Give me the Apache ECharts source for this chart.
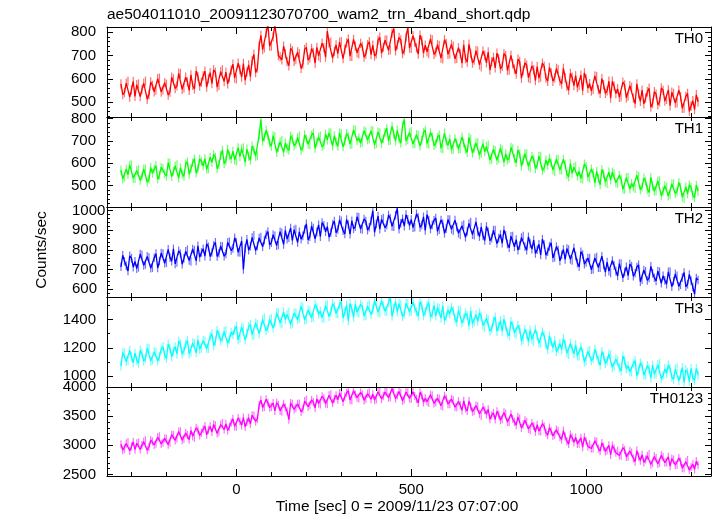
<!DOCTYPE html>
<html><head><meta charset="utf-8">
<script src="https://cdn.jsdelivr.net/npm/echarts@6/dist/echarts.min.js"></script>
<style>html,body{margin:0;padding:0;background:#fff}#c{width:717px;height:516px}</style>
</head><body><div id="c"></div>
<script>
// time bins (sec) and in-between bins
const times=[-330,-320,-310,-300,-290,-280,-270,-260,-250,-240,
-230,-220,-210,-200,-190,-180,-170,-160,-150,-140,
-130,-120,-110,-100,-90,-80,-70,-60,-50,-40,
-30,-20,-10,0,10,20,30,40,50,60,
70,80,90,100,110,120,130,140,150,160,
170,180,190,200,210,220,230,240,250,260,
270,280,290,300,310,320,330,340,350,360,
370,380,390,400,410,420,430,440,450,460,
470,480,490,500,510,520,530,540,550,560,
570,580,590,600,610,620,630,640,650,660,
670,680,690,700,710,720,730,740,750,760,
770,780,790,800,810,820,830,840,850,860,
870,880,890,900,910,920,930,940,950,960,
970,980,990,1000,1010,1020,1030,1040,1050,1060,
1070,1080,1090,1100,1110,1120,1130,1140,1150,1160,
1170,1180,1190,1200,1210,1220,1230,1240,1250,1260,
1270,1280,1290,1300,1310,1320];
const timesMid=[-325,-315,-305,-295,-285,-275,-265,-255,-245,-235,
-225,-215,-205,-195,-185,-175,-165,-155,-145,-135,
-125,-115,-105,-95,-85,-75,-65,-55,-45,-35,
-25,-15,-5,5,15,25,35,45,55,65,
75,85,95,105,115,125,135,145,155,165,
175,185,195,205,215,225,235,245,255,265,
275,285,295,305,315,325,335,345,355,365,
375,385,395,405,415,425,435,445,455,465,
475,485,495,505,515,525,535,545,555,565,
575,585,595,605,615,625,635,645,655,665,
675,685,695,705,715,725,735,745,755,765,
775,785,795,805,815,825,835,845,855,865,
875,885,895,905,915,925,935,945,955,965,
975,985,995,1005,1015,1025,1035,1045,1055,1065,
1075,1085,1095,1105,1115,1125,1135,1145,1155,1165,
1175,1185,1195,1205,1215,1225,1235,1245,1255,1265,
1275,1285,1295,1305,1315];

const th0=[579,542,590,553,525,578,555,590,533,572,
552,603,552,577,544,600,570,623,562,587,
617,557,610,586,633,600,580,628,573,639,
629,606,663,600,640,666,629,610,705,646,
786,733,835,740,830,700,682,707,656,721,
683,708,663,735,690,713,735,690,734,805,
757,718,708,759,727,770,697,740,707,738,
705,759,744,707,778,735,767,724,815,745,
767,721,820,731,756,706,765,744,708,768,
715,743,686,751,707,740,688,708,746,672,
709,680,719,652,701,715,674,647,688,654,
699,638,665,621,675,636,659,601,639,653,
608,654,590,627,605,641,578,605,552,607,
614,571,550,601,580,554,609,538,575,549,
518,569,557,523,574,526,563,494,536,552,
518,560,495,535,502,551,513,485,538,498,
524,475,538,484,469,502];
const th0Mid=[533,582,522,589,575,524,582,513,587,545,
601,544,584,531,607,559,624,555,607,551,
572,634,569,613,565,627,639,565,631,589,
579,638,604,667,608,594,660,678,627,741,
725,796,740,780,773,694,740,674,731,675,
715,645,726,681,730,667,698,753,693,754,
689,745,757,687,754,697,769,712,752,693,
746,704,698,766,710,766,722,796,720,777,
708,779,732,785,733,787,710,716,771,705,
746,689,767,705,748,686,733,667,687,748,
668,721,660,719,669,638,692,710,643,708,
636,701,642,684,603,668,605,655,593,603,
667,604,649,590,645,591,645,569,624,571,
564,616,626,560,548,613,554,601,538,590,
590,537,521,586,519,571,518,579,504,493,
545,479,545,489,561,505,553,543,497,552,
474,525,461,507,532];

const th1=[569,537,548,592,531,571,542,574,528,554,
588,546,576,542,600,563,593,579,541,606,
574,619,575,608,620,575,603,627,594,658,
610,634,654,609,629,669,663,613,659,633,
795,716,724,676,718,670,703,690,657,708,
687,722,671,709,682,735,693,722,683,704,
737,723,676,733,697,721,685,749,713,694,
740,709,746,688,737,710,756,701,731,748,
690,795,705,742,688,725,702,748,685,719,
688,726,663,696,709,662,691,665,690,648,
709,667,692,643,651,682,618,657,619,660,
642,623,665,602,642,614,642,579,619,591,
631,578,590,601,561,617,569,593,538,554,
586,563,528,585,534,555,563,503,551,508,
524,552,509,530,483,536,509,486,540,493,
519,468,498,476,521,475,492,458,507,473,
491,441,462,492,445,474];
const th1Mid=[529,573,592,532,567,523,574,514,580,574,
528,582,552,602,540,587,533,551,597,550,
602,555,619,588,572,627,639,575,634,598,
662,618,614,669,665,605,631,677,631,726,
698,748,690,723,648,696,648,667,722,677,
715,658,727,685,726,667,717,674,731,736,
677,695,736,673,733,685,749,701,689,746,
704,745,682,740,689,738,700,765,699,708,
766,699,737,686,728,677,738,688,737,679,
716,666,735,680,661,710,663,717,662,716,
645,691,636,687,675,614,662,613,667,604,
614,671,621,658,586,642,586,631,575,631,
567,614,622,569,617,569,617,549,598,582,
542,531,596,537,574,511,531,571,515,560,
560,512,545,482,535,484,493,546,480,533,
483,536,474,520,453,499,452,506,463,513,
447,493,502,456,501];

const th2=[714,742,693,758,742,711,775,726,761,710,
781,743,782,735,761,806,736,781,757,801,
741,799,821,787,768,816,787,839,783,818,
780,842,808,838,787,700,854,819,874,820,
866,850,894,837,872,825,887,900,862,848,
906,892,872,933,868,912,892,868,925,919,
889,947,904,948,882,930,949,919,966,904,
947,916,1000,932,906,963,928,961,918,1012,
936,921,956,955,916,965,928,899,952,928,
963,903,935,909,955,898,917,877,929,894,
942,875,895,917,848,893,860,901,860,834,
875,811,871,853,822,871,799,832,850,801,
774,828,791,836,763,799,775,752,802,747,
769,714,777,736,758,700,764,709,724,738,
683,720,667,731,687,669,716,681,724,648,
691,657,681,642,689,668,625,690,641,668,
622,685,625,643,575,647];
const th2Mid=[773,719,770,712,705,779,721,767,707,760,
708,784,732,803,743,729,795,727,793,746,
805,744,762,806,831,766,824,767,820,768,
839,797,862,788,846,808,799,864,797,861,
816,878,826,878,822,893,828,855,912,903,
838,855,904,851,922,857,928,940,893,865,
930,888,954,898,955,880,908,969,907,958,
901,948,890,973,956,913,978,920,977,906,
959,980,924,914,984,915,969,980,907,951,
895,953,885,955,905,952,885,923,865,935,
878,943,868,872,920,847,901,833,879,902,
830,870,816,799,863,817,867,804,782,829,
855,773,818,759,817,744,803,807,752,810,
733,791,727,759,699,759,710,768,687,692,
746,692,730,658,714,728,666,713,638,698,
645,716,658,692,630,645,688,613,678,614,
659,613,675,611,657];

const th3=[1071,1163,1110,1136,1162,1092,1159,1125,1197,1113,
1167,1137,1209,1125,1196,1177,1157,1228,1179,1252,
1169,1231,1256,1197,1247,1195,1299,1246,1296,1268,
1322,1262,1292,1352,1268,1334,1302,1365,1285,1366,
1346,1412,1340,1406,1375,1447,1369,1400,1450,1373,
1446,1411,1487,1401,1459,1415,1485,1459,1407,1505,
1453,1491,1439,1525,1453,1390,1477,1507,1447,1491,
1427,1507,1467,1523,1447,1495,1459,1555,1477,1453,
1505,1437,1513,1457,1479,1423,1499,1455,1519,1439,
1425,1477,1496,1419,1439,1464,1381,1465,1405,1429,
1459,1381,1387,1422,1343,1396,1335,1418,1350,1318,
1352,1284,1360,1298,1332,1258,1298,1326,1246,1286,
1235,1285,1186,1243,1251,1195,1187,1227,1153,1193,
1221,1142,1165,1109,1180,1125,1149,1077,1143,1108,
1150,1072,1107,1034,1110,1073,1030,1110,1040,1072,
1008,1052,1078,1015,1090,1003,1019,1052,977,1063,
1011,955,1028,1054,970,1007];
const th3Mid=[1167,1103,1182,1094,1114,1182,1105,1197,1107,1173,
1107,1191,1149,1227,1136,1207,1247,1156,1227,1156,
1235,1165,1190,1251,1193,1279,1215,1324,1248,1316,
1232,1310,1328,1256,1346,1256,1350,1293,1375,1300,
1400,1322,1400,1340,1447,1375,1453,1436,1366,1445,
1398,1495,1397,1467,1411,1505,1437,1411,1497,1421,
1513,1443,1505,1411,1501,1513,1417,1453,1507,1425,
1493,1435,1533,1451,1531,1459,1519,1423,1525,1513,
1421,1515,1453,1523,1455,1525,1427,1497,1417,1499,
1485,1411,1394,1467,1487,1404,1465,1375,1447,1357,
1369,1435,1447,1356,1409,1318,1389,1316,1392,1402,
1304,1386,1306,1358,1248,1330,1244,1260,1330,1232,
1313,1225,1282,1201,1173,1231,1265,1161,1231,1157,
1143,1208,1099,1175,1108,1191,1113,1173,1089,1156,
1060,1120,1059,1142,1050,1031,1090,1002,1094,1006,
1074,986,1012,1081,982,1051,1079,992,1049,967,
1059,1044,962,988,1054];

const th0123=[3018,2942,3056,2980,2925,3049,3003,3087,2971,3066,
3030,3154,3049,3113,3044,3176,3117,3239,3110,3177,
3254,3131,3259,3216,3330,3264,3228,3343,3227,3381,
3365,3320,3454,3318,3413,3477,3401,3366,3510,3454,
3780,3660,3730,3660,3590,3695,3577,3648,3440,3711,
3643,3714,3618,3783,3687,3741,3796,3700,3804,3709,
3873,3797,3782,3906,3836,3936,3776,3876,3806,3871,
3795,3910,3875,3789,3944,3844,3914,3824,3974,3854,
3894,3785,3905,3796,3846,3727,3857,3808,3728,3859,
3739,3800,3669,3807,3706,3774,3653,3689,3764,3590,
3666,3591,3667,3504,3601,3618,3516,3443,3529,3444,
3540,3396,3451,3347,3458,3359,3400,3261,3332,3353,
3240,3327,3174,3241,3178,3249,3100,3151,3022,3133,
3134,3027,2970,3072,3015,2948,3064,2900,2975,2911,
2837,2943,2906,2819,2921,2804,2877,2718,2808,2839,
2759,2850,2700,2781,2701,2802,2712,2643,2753,2662,
2720,2609,2747,2626,2588,2660];
const th0123Mid=[2918,3032,2906,3060,3035,2929,3063,2917,3091,3006,
3140,3024,3119,3013,3184,3086,3237,3089,3210,3097,
3154,3301,3169,3276,3180,3324,3358,3203,3357,3271,
3255,3390,3324,3468,3343,3317,3471,3516,3410,3690,
3645,3790,3645,3725,3732,3591,3712,3584,3725,3617,
3713,3574,3758,3663,3777,3641,3716,3840,3714,3859,
3723,3857,3892,3746,3896,3776,3936,3816,3906,3771,
3885,3790,3775,3919,3794,3914,3814,3974,3804,3924,
3764,3915,3805,3916,3796,3907,3737,3748,3868,3719,
3809,3680,3849,3707,3796,3654,3753,3599,3634,3760,
3576,3681,3537,3654,3531,3448,3556,3583,3429,3564,
3400,3536,3401,3487,3298,3429,3280,3381,3232,3243,
3370,3217,3304,3161,3268,3139,3250,3071,3182,3053,
3024,3127,3140,2982,2945,3078,2944,3040,2895,3001,
2997,2873,2826,2959,2801,2904,2777,2908,2738,2709,
2819,2670,2810,2681,2831,2702,2802,2773,2663,2782,
2610,2719,2577,2676,2728];

// per-band error bar half-length (counts/sec)
const errHalf=[20,20,22,32,70];

const bandNames=['TH0','TH1','TH2','TH3','TH0123'];
const seriesValues=[th0,th1,th2,th3,th0123];
const seriesMid=[th0Mid,th1Mid,th2Mid,th3Mid,th0123Mid];
const yMin=[437,403,560,923,2474];
const yMax=[822,807,1019,1559,4000];
const yLabels=[[500,600,700,800],[500,600,700,800],[600,700,800,900,1000],[1000,1200,1400],[2500,3000,3500,4000]];
const yMinorStep=[20,20,20,100,100];
const xLabels=[0,500,1000];
const xMinorStep=100;
const xMin=-370, xMax=1357;
const titleText='ae504011010_20091123070700_wam2_trn_4band_short.qdp';
const xTitle='Time [sec] 0 = 2009/11/23 07:07:00';
const yTitle='Counts/sec';

// layout / style
const colors=['#ff0000','#00ff00','#0000ff','#00ffff','#ff00ff'];
const haloColors=['#ff7070','#70ff70','#7070ff','#70ffff','#ff70ff'];
const tops=[27,117,207,297,387];
const heights=[90,90,90,90,89];
const FONT='"Liberation Sans", Arial, Helvetica, sans-serif';

function ticksBetween(a,b,s){const r=[];for(let v=Math.ceil(a/s)*s;v<=b;v+=s){if(v>a&&v<b)r.push(v);}return r;}
const fmt=v=>String(v);

const grids=[],xAxes=[],yAxes=[],series=[],graphics=[];
for(let p=0;p<5;p++){
  grids.push({left:107,top:tops[p],width:604,height:heights[p],containLabel:false});
  const xMinor=ticksBetween(xMin,xMax,xMinorStep);
  const mkX=(pos,major,labels)=>({type:'value',gridIndex:p,position:pos,min:xMin,max:xMax,
    axisLine:{show:major,onZero:false,lineStyle:{color:'#000',width:1}},
    axisTick:{show:true,inside:true,length:major?7:4,customValues:major?xLabels:xMinor,lineStyle:{color:'#000',width:1}},
    axisLabel:{show:labels,customValues:xLabels,formatter:fmt,color:'#000',fontSize:15,fontFamily:FONT,margin:6},
    splitLine:{show:false},z:5});
  xAxes.push(mkX('bottom',true,p===4));
  xAxes.push(mkX('bottom',false,false));
  xAxes.push(mkX('top',true,false));
  xAxes.push(mkX('top',false,false));
  const yMinor=ticksBetween(yMin[p],yMax[p],yMinorStep[p]);
  const mkY=(pos,major,labels)=>({type:'value',gridIndex:p,position:pos,min:yMin[p],max:yMax[p],
    axisLine:{show:major,onZero:false,lineStyle:{color:'#000',width:1}},
    axisTick:{show:true,inside:true,length:major?6:3,customValues:major?yLabels[p]:yMinor,lineStyle:{color:'#000',width:1}},
    axisLabel:{show:labels,customValues:yLabels[p],formatter:fmt,color:'#000',fontSize:15,fontFamily:FONT,
      margin:p===2?35:11,align:p===2?'left':'right'},
    splitLine:{show:false},z:5});
  yAxes.push(mkY('left',true,true));
  yAxes.push(mkY('left',false,false));
  yAxes.push(mkY('right',true,false));
  yAxes.push(mkY('right',false,false));
  const vals=seriesValues[p], mids=seriesMid[p], data=[];
  for(let i=0;i<times.length;i++){
    data.push([times[i],vals[i]]);
    if(i<timesMid.length) data.push([timesMid[i],mids[i]]);
  }
  const err=errHalf[p], lo=yMin[p], hi=yMax[p], halo=haloColors[p];
  series.push({type:'custom',xAxisIndex:4*p,yAxisIndex:4*p,silent:true,clip:true,z:1,
    encode:{x:0,y:1},data:data,
    renderItem:(params,api)=>{
      const t=api.value(0), v=api.value(1);
      const a=api.coord([t,Math.max(lo,v-err)]), b=api.coord([t,Math.min(hi,v+err)]);
      return {type:'line',shape:{x1:a[0],y1:a[1],x2:b[0],y2:b[1]},style:{stroke:halo,lineWidth:1.2}};
    }});
  series.push({type:'line',xAxisIndex:4*p,yAxisIndex:4*p,showSymbol:false,symbol:'none',
    clip:true,silent:true,sampling:false,z:2,
    lineStyle:{color:colors[p],width:1.3},data:data});
  graphics.push({type:'text',x:703,y:tops[p]+12,style:{text:bandNames[p],align:'right',verticalAlign:'middle',fontSize:15,fontFamily:FONT,fill:'#000'},z:10});
}
graphics.push({type:'text',x:107,y:15,style:{text:titleText,align:'left',verticalAlign:'middle',fontSize:15.5,fontFamily:FONT,fill:'#000'}});
graphics.push({type:'text',x:397,y:507,style:{text:xTitle,align:'center',verticalAlign:'middle',fontSize:15.5,fontFamily:FONT,fill:'#000'}});
graphics.push({type:'text',x:42,y:250,rotation:Math.PI/2,style:{text:yTitle,align:'center',verticalAlign:'middle',fontSize:15.5,fontFamily:FONT,fill:'#000'}});

const chart=echarts.init(document.getElementById('c'),null,{renderer:'canvas'});
chart.setOption({animation:false,backgroundColor:'#fff',grid:grids,xAxis:xAxes,yAxis:yAxes,series:series,graphic:graphics});
</script></body></html>
